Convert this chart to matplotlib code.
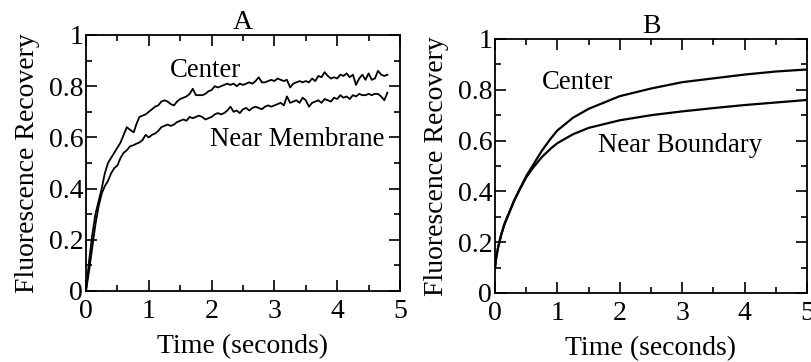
import matplotlib
matplotlib.use("Agg")
import matplotlib.pyplot as plt
from matplotlib.ticker import MultipleLocator

plt.rcParams['font.family'] = ['Liberation Serif', 'DejaVu Serif']

t_a = [0.0, 0.05, 0.1, 0.15, 0.2, 0.25, 0.3, 0.35, 0.4, 0.45, 0.5, 0.55, 0.6, 0.65, 0.7,
       0.76, 0.8, 0.85, 0.9, 0.95, 1.0, 1.05, 1.1, 1.15, 1.2, 1.25, 1.3, 1.35, 1.4, 1.45,
       1.5, 1.55, 1.6, 1.65, 1.7, 1.75, 1.8, 1.85, 1.9, 1.95, 2.0, 2.05, 2.1, 2.15, 2.2,
       2.25, 2.3, 2.35, 2.4, 2.45, 2.5, 2.55, 2.6, 2.65, 2.7, 2.75, 2.8, 2.85, 2.9, 2.95,
       3.0, 3.05, 3.1, 3.15, 3.2, 3.25, 3.3, 3.35, 3.4, 3.45, 3.5, 3.55, 3.6, 3.65, 3.7,
       3.75, 3.8, 3.85, 3.9, 3.95, 4.0, 4.05, 4.1, 4.15, 4.2, 4.25, 4.3, 4.35, 4.4, 4.45,
       4.5, 4.55, 4.6, 4.65, 4.7, 4.75, 4.8]
center_a = [0.0, 0.12, 0.22, 0.30, 0.35, 0.40, 0.46, 0.50, 0.52, 0.54, 0.56, 0.58, 0.61, 0.64, 0.63,
            0.62, 0.65, 0.68, 0.685, 0.69, 0.70, 0.71, 0.72, 0.725, 0.74, 0.745, 0.74, 0.73, 0.725, 0.74,
            0.75, 0.755, 0.76, 0.77, 0.79, 0.765, 0.765, 0.765, 0.77, 0.78, 0.785, 0.80, 0.795, 0.80, 0.805,
            0.81, 0.805, 0.81, 0.80, 0.81, 0.805, 0.81, 0.815, 0.81, 0.82, 0.835, 0.815, 0.815, 0.82, 0.825,
            0.82, 0.83, 0.825, 0.82, 0.825, 0.795, 0.81, 0.815, 0.82, 0.815, 0.82, 0.815, 0.83, 0.82, 0.84,
            0.835, 0.855, 0.84, 0.83, 0.835, 0.83, 0.845, 0.84, 0.85, 0.835, 0.845, 0.805, 0.83, 0.845, 0.825,
            0.85, 0.825, 0.83, 0.86, 0.845, 0.84, 0.845]
membrane_a = [0.0, 0.08, 0.17, 0.26, 0.33, 0.38, 0.41, 0.43, 0.46, 0.48, 0.49, 0.52, 0.54, 0.55, 0.565,
              0.57, 0.575, 0.58, 0.59, 0.61, 0.60, 0.61, 0.615, 0.625, 0.64, 0.645, 0.65, 0.645, 0.65, 0.66,
              0.665, 0.67, 0.665, 0.68, 0.675, 0.68, 0.685, 0.68, 0.67, 0.675, 0.68, 0.69, 0.695, 0.69, 0.695,
              0.705, 0.72, 0.70, 0.705, 0.695, 0.71, 0.715, 0.705, 0.715, 0.72, 0.715, 0.71, 0.72, 0.725, 0.72,
              0.725, 0.73, 0.735, 0.725, 0.76, 0.735, 0.74, 0.745, 0.735, 0.755, 0.745, 0.72, 0.735, 0.74, 0.745,
              0.735, 0.75, 0.745, 0.74, 0.755, 0.75, 0.765, 0.755, 0.76, 0.75, 0.765, 0.76, 0.77, 0.765, 0.765,
              0.77, 0.765, 0.77, 0.77, 0.76, 0.745, 0.775]

# panel B: model curves
t_b = [0.0, 0.02, 0.05, 0.1, 0.15, 0.2, 0.3, 0.4, 0.5, 0.6, 0.75, 0.9, 1.0, 1.25, 1.5,
       1.75, 2.0, 2.5, 3.0, 3.5, 4.0, 4.5, 5.0]
center_b = [0.1, 0.14, 0.18, 0.23, 0.27, 0.30, 0.36, 0.41, 0.46, 0.50, 0.56, 0.61, 0.64, 0.69, 0.725,
            0.75, 0.775, 0.805, 0.83, 0.845, 0.86, 0.872, 0.88]
boundary_b = [0.1, 0.14, 0.18, 0.23, 0.27, 0.30, 0.36, 0.41, 0.455, 0.49, 0.535, 0.57, 0.59, 0.625, 0.65,
              0.665, 0.68, 0.70, 0.715, 0.728, 0.74, 0.75, 0.76]

fig = plt.figure(figsize=(8.12, 3.62), dpi=100)
ax1 = fig.add_axes([86 / 812, 71 / 362, 314 / 812, 256 / 362])
ax2 = fig.add_axes([495 / 812, 69 / 362, 312 / 812, 254 / 362])

fs = 20
lfs = 19.3
for ax, title in [(ax1, "A"), (ax2, "B")]:
    ax.set_xlim(0, 5)
    ax.set_ylim(0, 1)
    ax.xaxis.set_minor_locator(MultipleLocator(0.5))
    ax.yaxis.set_minor_locator(MultipleLocator(0.1))
    ax.set_xticks([0, 1, 2, 3, 4, 5])
    ax.set_xticklabels(["0", "1", "2", "3", "4", "5"])
    ax.set_yticks([0, 0.2, 0.4, 0.6, 0.8, 1])
    ax.set_yticklabels(["0", "0.2", "0.4", "0.6", "0.8", "1"])
    ax.tick_params(which="both", direction="in", top=True, right=True, labelsize=fs, width=1.2)
    ax.tick_params(which="major", length=8)
    ax.tick_params(which="minor", length=4)
    ax.tick_params(axis="x", pad=6)
    ax.tick_params(axis="y", pad=2)
    for sp in ax.spines.values():
        sp.set_linewidth(1.3)
    ax.set_xlabel("Time (seconds)", fontsize=fs, labelpad=7)
    ax.set_ylabel("Fluorescence Recovery", fontsize=fs, labelpad=6)
    ax.set_title(title, fontsize=fs, pad=4)

ax1.plot(t_a, center_a, color="black", lw=1.3)
ax1.plot(t_a, membrane_a, color="black", lw=1.3)
ax1.text(1.9, 0.86, "Center", fontsize=lfs, ha="center", va="center")
ax1.text(1.97, 0.59, "Near Membrane", fontsize=lfs, ha="left", va="center")

ax2.plot(t_b, center_b, color="black", lw=1.6)
ax2.plot(t_b, boundary_b, color="black", lw=1.6)
ax2.text(0.75, 0.83, "Center", fontsize=lfs, ha="left", va="center")
ax2.text(1.65, 0.58, "Near Boundary", fontsize=lfs, ha="left", va="center")

fig.savefig("out.png", dpi=100)
